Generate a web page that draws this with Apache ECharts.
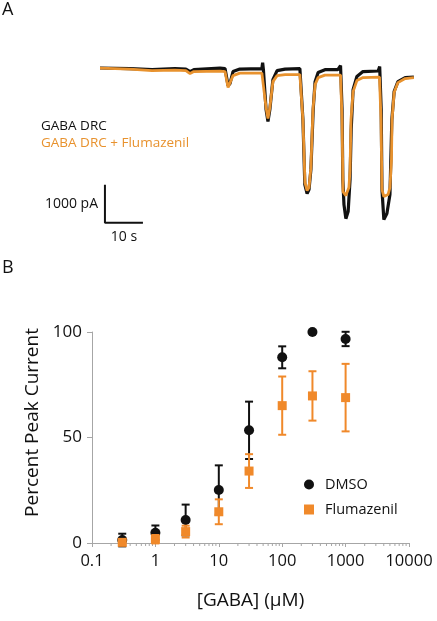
<!DOCTYPE html>
<html>
<head>
<meta charset="utf-8">
<script src="https://cdn.jsdelivr.net/npm/echarts@6/dist/echarts.min.js"></script>
<style>
html,body{margin:0;padding:0;background:#fff;}
#chart{width:437px;height:621px;}
</style>
</head>
<body>
<div id="chart"></div>
<script>
// ---------- Panel A: current traces [time (s), current (pA)] ----------
const blackTrace = [[0,-10],[7.9,-25],[13.7,-50],[19.7,-25],[22.6,-40],[23.7,-105],[24.7,-55],[31.6,-15],[32.9,-25],[33.7,-475],[34.2,-420],[35,-105],[36.8,-40],[42.6,-25],[42.8,130],[43,-55],[43.7,-1105],[44.2,-1420],[44.7,-1105],[45.5,-315],[46.6,-80],[48.7,-40],[52.6,-25],[53,25],[53.4,-1370],[53.9,-3080],[54.5,-3315],[55,-3210],[55.5,-2685],[56.1,-1105],[56.6,-370],[57.4,-130],[59.2,-55],[62.6,-55],[63.3,55],[63.7,-1105],[63.9,-2950],[64.2,-3605],[64.7,-3975],[65.3,-3790],[65.8,-2950],[66.1,-1630],[66.6,-580],[67.6,-235],[69.2,-105],[73.2,-90],[73.6,25],[74,-1105],[74.2,-3210],[74.7,-4000],[75.5,-3840],[76.3,-3340],[76.8,-1370],[77.4,-630],[78.4,-370],[80.3,-265],[82.6,-250]];
const orangeTrace = [[0,-13],[7.9,-39],[13.7,-79],[19.7,-66],[22.6,-79],[23.7,-158],[24.7,-105],[31.6,-92],[32.9,-105],[33.7,-526],[34.2,-474],[35,-211],[36.8,-145],[42.6,-145],[43,-158],[43.7,-1053],[44.2,-1342],[44.7,-1053],[45.5,-368],[46.6,-211],[48.7,-184],[52.6,-184],[53.4,-1368],[53.95,-3026],[54.5,-3237],[55,-3158],[55.5,-2632],[56.05,-1105],[56.6,-447],[57.4,-263],[59.2,-197],[63.3,-197],[63.7,-1368],[63.95,-3263],[64.7,-3368],[65.5,-3158],[65.8,-2684],[66.05,-1368],[66.6,-632],[67.6,-342],[69.2,-263],[73.55,-250],[73.95,-1368],[74.2,-3211],[74.7,-3395],[75.8,-3342],[76.3,-3158],[76.7,-2421],[76.85,-1368],[77.4,-658],[78.4,-395],[80.3,-289],[82.6,-263]];
const scaleBarOrigin = [1.3, -4080];   // time (s), current (pA)
const scaleBarTime = 10;               // s
const scaleBarCurrent = 1000;          // pA

// ---------- Panel B: dose-response ----------
const gabaConc = [0.3, 1, 3, 10, 30, 100, 300, 1000];
const dmsoMean = [1.4, 4.9, 10.9, 25.1, 53.4, 88, 100, 96.7];
const dmsoErr  = [3, 3.4, 7.3, 11.7, 13.6, 5.2, 0, 3.4];
const fluMean  = [0.3, 1.8, 5.4, 14.8, 34.1, 65.1, 69.7, 68.9];
const fluErr   = [1, 2, 2.8, 5.9, 8, 13.8, 11.7, 16];
const yTicks = [0, 50, 100];
const xTickLabels = ['0.1', '1', '10', '100', '1000', '10000'];

const BLACK = '#111111';
const ORANGE_TRACE = '#E8922E';
const ORANGE = '#F0892A';
const AXIS_GREY = '#a6a6a6';
const FONT = 'Open Sans';

const chart = echarts.init(document.getElementById('chart'), null, {renderer: 'canvas'});

const scaleBarData = [
  [scaleBarOrigin[0], scaleBarOrigin[1] + scaleBarCurrent],
  [scaleBarOrigin[0], scaleBarOrigin[1]],
  [scaleBarOrigin[0] + scaleBarTime, scaleBarOrigin[1]]
];

// minor tick positions for the log axis (axis decoration)
const minorTicks = [];
for (let k = -1; k <= 3; k++) {
  for (let m = 2; m <= 9; m++) minorTicks.push(+(m * Math.pow(10, k)).toPrecision(3));
}

function errorBarItem(color) {
  return function (params, api) {
    const x = api.value(0), m = api.value(1), e = api.value(2);
    if (!e) return null;
    const top = api.coord([x, m + e]);
    const bot = api.coord([x, m - e]);
    const w = 4;
    const st = {stroke: color, lineWidth: 2};
    return {
      type: 'group',
      children: [
        {type: 'line', shape: {x1: top[0], y1: top[1], x2: bot[0], y2: bot[1]}, style: st},
        {type: 'line', shape: {x1: top[0] - w, y1: top[1], x2: top[0] + w, y2: top[1]}, style: st},
        {type: 'line', shape: {x1: bot[0] - w, y1: bot[1], x2: bot[0] + w, y2: bot[1]}, style: st}
      ]
    };
  };
}

const option = {
  backgroundColor: '#ffffff',
  animation: false,
  textStyle: {fontFamily: FONT, color: BLACK},
  grid: [
    {left: 100, top: 60, width: 314, height: 171},
    {left: 92, top: 332, width: 317, height: 211}
  ],
  xAxis: [
    {gridIndex: 0, type: 'value', min: 0, max: 82.63, show: false},
    {
      gridIndex: 1, type: 'log', logBase: 10, min: 0.1, max: 10000,
      axisLine: {show: true, lineStyle: {color: AXIS_GREY, width: 1}},
      axisTick: {show: true, length: 4, lineStyle: {color: AXIS_GREY}},
      axisLabel: {
        fontFamily: FONT, fontSize: 16.5, color: BLACK, margin: 10,
        formatter: function (v) {
          const i = Math.round(Math.log10(v)) + 1;
          return xTickLabels[i] !== undefined ? xTickLabels[i] : '';
        }
      },
      splitLine: {show: false},
      name: '[GABA] (\u03BCM)', nameLocation: 'middle', nameGap: 48,
      nameTextStyle: {fontFamily: FONT, fontSize: 19, color: BLACK}
    }
  ],
  yAxis: [
    {gridIndex: 0, type: 'value', min: -4300, max: 200, show: false},
    {
      gridIndex: 1, type: 'value', min: yTicks[0], max: yTicks[yTicks.length - 1], interval: 50,
      axisLine: {show: true, lineStyle: {color: AXIS_GREY, width: 1}},
      axisTick: {show: true, length: 5, lineStyle: {color: AXIS_GREY}},
      axisLabel: {fontFamily: FONT, fontSize: 17, color: BLACK, margin: 10},
      splitLine: {show: false},
      name: 'Percent Peak Current', nameLocation: 'middle', nameGap: 50, nameRotate: 90,
      nameTextStyle: {fontFamily: FONT, fontSize: 19, color: BLACK, padding: [0, 0, 0, 30]}
    }
  ],
  legend: [
    {
      left: 36, top: 114, orient: 'vertical', itemGap: 3, itemWidth: 0, itemHeight: 0,
      selectedMode: false, icon: 'none',
      textStyle: {fontFamily: FONT, fontSize: 13.5, padding: [0, 0, 0, -5]},
      data: [
        {name: 'GABA DRC', textStyle: {color: BLACK}},
        {name: 'GABA DRC + Flumazenil', textStyle: {color: ORANGE_TRACE}}
      ]
    },
    {
      left: 299, top: 472, orient: 'vertical', itemGap: 10, itemWidth: 10, itemHeight: 10,
      selectedMode: false,
      textStyle: {fontFamily: FONT, fontSize: 14.5, color: BLACK, lineHeight: 14, padding: [0, 0, 0, 6]},
      data: [
        {name: 'DMSO', icon: 'circle', itemStyle: {color: BLACK, opacity: 1}},
        {name: 'Flumazenil', icon: 'rect', itemStyle: {color: ORANGE, opacity: 1}}
      ]
    }
  ],
  graphic: [
    {type: 'text', left: 2, top: 1, style: {text: 'A', font: '18px "Open Sans"', fill: BLACK}},
    {type: 'text', left: 2, top: 259, style: {text: 'B', font: '18px "Open Sans"', fill: BLACK}},
    {type: 'text', x: 98, y: 204, style: {text: '1000 pA', font: '14px "Open Sans"', fill: BLACK, align: 'right', verticalAlign: 'middle'}},
    {type: 'text', x: 124, y: 237, style: {text: '10 s', font: '14px "Open Sans"', fill: BLACK, align: 'center', verticalAlign: 'middle'}}
  ],
  series: [
    {
      name: 'GABA DRC', type: 'line', xAxisIndex: 0, yAxisIndex: 0,
      data: blackTrace, showSymbol: false, symbol: 'none',
      lineStyle: {color: BLACK, width: 3.2}, itemStyle: {color: BLACK}, z: 2
    },
    {
      name: 'GABA DRC + Flumazenil', type: 'line', xAxisIndex: 0, yAxisIndex: 0,
      data: orangeTrace, showSymbol: false, symbol: 'none',
      lineStyle: {color: ORANGE_TRACE, width: 2.8}, itemStyle: {color: ORANGE_TRACE}, z: 3
    },
    {
      name: 'scale bar', type: 'line', xAxisIndex: 0, yAxisIndex: 0,
      data: scaleBarData, showSymbol: false, symbol: 'none',
      lineStyle: {color: BLACK, width: 2}, z: 3
    },
    {
      name: 'minor ticks', type: 'custom', xAxisIndex: 1, yAxisIndex: 1, clip: false, silent: true,
      data: minorTicks.map(v => [v, 0]),
      renderItem: function (params, api) {
        const p = api.coord([api.value(0), 0]);
        return {type: 'line', shape: {x1: p[0], y1: p[1], x2: p[0], y2: p[1] + 3}, style: {stroke: AXIS_GREY, lineWidth: 1}};
      }
    },
    {
      name: 'DMSO SEM', type: 'custom', xAxisIndex: 1, yAxisIndex: 1, clip: false,
      data: gabaConc.map((c, i) => [c, dmsoMean[i], dmsoErr[i]]),
      renderItem: errorBarItem(BLACK), z: 2
    },
    {
      name: 'DMSO', type: 'scatter', xAxisIndex: 1, yAxisIndex: 1, clip: false,
      data: gabaConc.map((c, i) => [c, dmsoMean[i]]),
      symbol: 'circle', symbolSize: 10, itemStyle: {color: BLACK, opacity: 1}, z: 3
    },
    {
      name: 'Flumazenil SEM', type: 'custom', xAxisIndex: 1, yAxisIndex: 1, clip: false,
      data: gabaConc.map((c, i) => [c, fluMean[i], fluErr[i]]),
      renderItem: errorBarItem(ORANGE), z: 4
    },
    {
      name: 'Flumazenil', type: 'scatter', xAxisIndex: 1, yAxisIndex: 1, clip: false,
      data: gabaConc.map((c, i) => [c, fluMean[i]]),
      symbol: 'rect', symbolSize: 9, itemStyle: {color: ORANGE, opacity: 1}, z: 5
    }
  ]
};
chart.setOption(option);
</script>
</body>
</html>
